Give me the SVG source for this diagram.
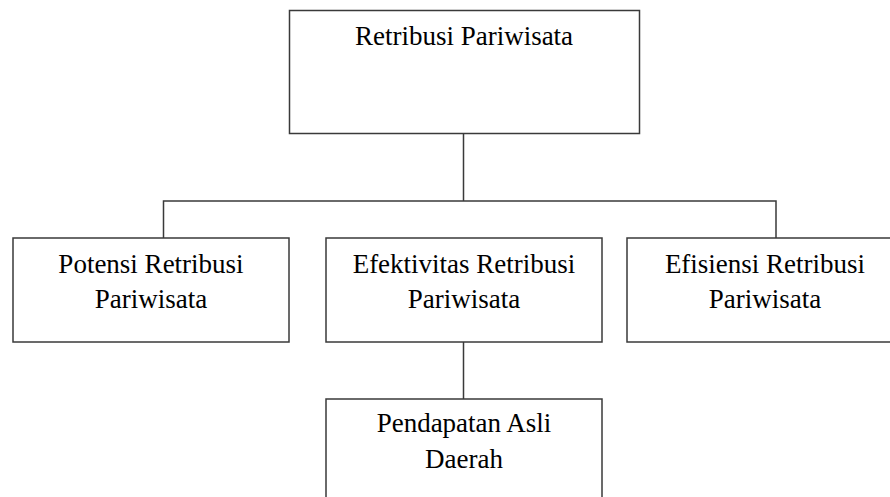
<svg xmlns="http://www.w3.org/2000/svg" width="890" height="497" viewBox="0 0 890 497">
<style>
.box{fill:#fff;stroke:#3a3a3a;stroke-width:1.5}
.line{fill:none;stroke:#3a3a3a;stroke-width:1.5}
text{font-family:"Liberation Serif","Times New Roman",serif;font-size:27px;fill:#000;text-anchor:middle}
</style>
<rect width="890" height="497" fill="#fff"/>
<g id="connectors">
<path class="line" d="M463.5,133 V201 M163.5,238 V201 H776 V238 M463.5,341 V399"/>
</g>
<g id="n-retribusi">
<rect class="box" x="289.5" y="10.5" width="350" height="123"/>
<text x="464" y="45">Retribusi Pariwisata</text>
</g>
<g id="n-potensi">
<rect class="box" x="13" y="238" width="276" height="104"/>
<text x="151" y="273">Potensi Retribusi</text>
<text x="151" y="308">Pariwisata</text>
</g>
<g id="n-efektivitas">
<rect class="box" x="326" y="238" width="276" height="104"/>
<text x="464" y="273">Efektivitas Retribusi</text>
<text x="464" y="308">Pariwisata</text>
</g>
<g id="n-efisiensi">
<rect class="box" x="627" y="238" width="276" height="104"/>
<text x="765" y="273">Efisiensi Retribusi</text>
<text x="765" y="308">Pariwisata</text>
</g>
<g id="n-pad">
<rect class="box" x="326" y="399" width="276" height="110"/>
<text x="464" y="432">Pendapatan Asli</text>
<text x="464" y="468">Daerah</text>
</g>
</svg>
